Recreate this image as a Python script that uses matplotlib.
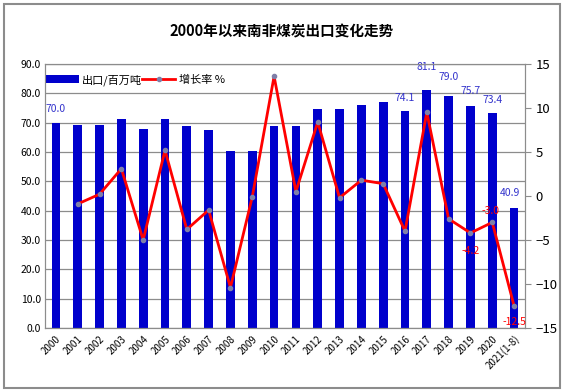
import numpy as np
import matplotlib
matplotlib.use("Agg")
import matplotlib.pyplot as plt
from matplotlib.patches import Rectangle

plt.rcParams['font.family'] = ['Noto Sans CJK SC', 'DejaVu Sans']

# data
years = ["2000", "2001", "2002", "2003", "2004", "2005", "2006", "2007", "2008",
         "2009", "2010", "2011", "2012", "2013", "2014", "2015", "2016", "2017",
         "2018", "2019", "2020", "2021(1-8)"]
exports = [70.0, 69.3, 69.3, 71.4, 68.0, 71.4, 68.7, 67.6, 60.5, 60.5, 68.7,
           69.0, 74.8, 74.8, 76.0, 77.0, 74.1, 81.1, 79.0, 75.7, 73.4, 40.9]
growth = [np.nan, -0.9, 0.2, 3.1, -5.0, 5.2, -3.8, -1.6, -10.4, -0.1, 13.6,
          0.5, 8.4, -0.2, 1.8, 1.4, -4.0, 9.5, -2.6, -4.2, -3.0, -12.5]

# which points carry a value label (index -> pixel offset of the label)
bar_labels = {0: (0, 9), 16: (0, 8), 17: (0, 18), 18: (0, 14), 19: (0, 10),
              20: (0, 8), 21: (-4, 10)}
line_labels = {19: (0, -13), 20: (-2, 6), 21: (0, -11)}

fig = plt.figure(figsize=(5.64, 3.92), dpi=100)
fig.patches.append(Rectangle((4 / 564, 4 / 392), 556 / 564, 384 / 392,
                             transform=fig.transFigure, fill=False,
                             edgecolor="#8c8c8c", linewidth=1.5))

ax = fig.add_axes([45 / 564, 1 - 328 / 392, 480 / 564, 264 / 392])
ax.set_axisbelow(True)
x = np.arange(len(years))

bars = ax.bar(x, exports, width=0.4, color="#0000cc", label="出口/百万吨", zorder=2)
ax.set_ylim(0, 90)
ax.set_yticks(np.arange(0, 91, 10))
ax.set_yticklabels([f"{v:.1f}" for v in np.arange(0, 91, 10)], fontsize=7.5)
ax.set_xlim(-0.5, len(years) - 0.5)
ax.set_xticks(x)
ax.set_xticklabels(years, rotation=45, ha="right", va="top", fontsize=7,
                   rotation_mode="anchor")
ax.tick_params(axis="x", length=0, pad=4)
ax.tick_params(axis="y", length=0, pad=3)
ax.grid(axis="y", color="#8c8c8c", linewidth=0.9)
for s in ax.spines.values():
    s.set_color("#8c8c8c")

for i, (dx, dy) in bar_labels.items():
    ax.annotate(f"{exports[i]:.1f}", (x[i], exports[i]), xytext=(dx, dy),
                textcoords="offset pixels", ha="center", va="bottom",
                fontsize=7.5, color="#3333cc", zorder=5)

ax2 = ax.twinx()
line, = ax2.plot(x, growth, color="#ff0000", linewidth=2, marker="o",
                 markersize=3, markerfacecolor="#7f7fa8",
                 markeredgecolor="#7f7fa8", label="增长率 %", zorder=3)
ax2.set_ylim(-15, 15)
ax2.set_yticks(np.arange(-15, 16, 5))
ax2.tick_params(axis="y", labelsize=9.5, length=4, color="#8c8c8c")
for s in ax2.spines.values():
    s.set_color("#8c8c8c")

for i, (dx, dy) in line_labels.items():
    ax2.annotate(f"{growth[i]:.1f}", (x[i], growth[i]), xytext=(dx, dy),
                 textcoords="offset pixels", ha="center",
                 va="bottom" if dy > 0 else "top",
                 fontsize=7.5, color="#ff0000", zorder=5)

ax.legend([bars, line], ["出口/百万吨", "增长率 %"], loc="upper left",
          bbox_to_anchor=(-0.02, 1.0), ncol=2, frameon=False, fontsize=8,
          handlelength=3, columnspacing=0.0, handletextpad=0.3)

fig.text(0.5, 1 - 32 / 392, "2000年以来南非煤炭出口变化走势", ha="center",
         va="center", fontsize=10.5, fontweight="bold")

fig.savefig("out.png", dpi=100)
